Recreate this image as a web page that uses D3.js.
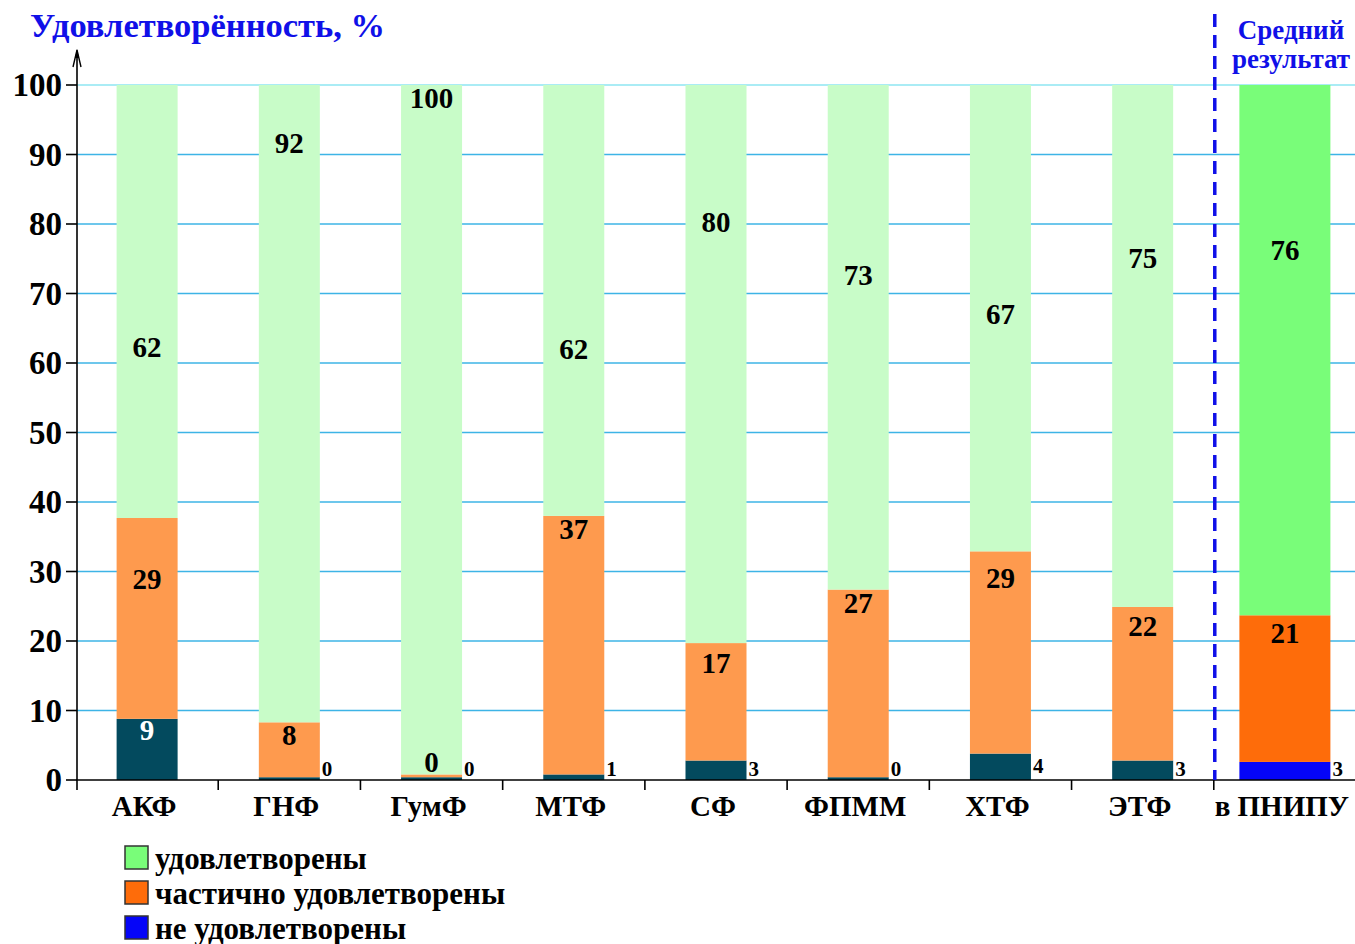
<!DOCTYPE html>
<html><head><meta charset="utf-8">
<script src="https://cdn.jsdelivr.net/npm/d3@7"></script>
<style>body{margin:0;background:#fff}svg{display:block}text{font-family:"Liberation Serif","Times New Roman",serif;font-weight:bold}</style>
</head><body>
<svg id="c" width="1355" height="944"></svg>
<script>
const categories = ["АКФ","ГНФ","ГумФ","МТФ","СФ","ФПММ","ХТФ","ЭТФ","в ПНИПУ"];
const notSatisfied = [8.8, 0.4, 0.4, 0.8, 2.8, 0.4, 3.8, 2.8, 2.6];
const partly       = [28.9, 7.9, 0.4, 37.2, 16.9, 27.0, 29.1, 22.1, 21.1];
const satisfied    = [62.3, 91.7, 100, 62.0, 80.3, 72.6, 67.1, 75.1, 76.3];
const yTicks = [0,10,20,30,40,50,60,70,80,90,100];
const seriesNames = ["удовлетворены","частично удовлетворены","не удовлетворены"];
const colorsFaculty = ["#034a5e","#fe9a4e","#c8fcc8"];
const colorsTotal = ["#0505f8","#fe6c0a","#79fd79"];

const svg = d3.select("#c");
const x = d3.scaleBand().domain(categories).range([76, 1356]).padding(0);
const y = d3.scaleLinear().domain([0,100]).range([780,85]).clamp(true);
const bw = d => d === "в ПНИПУ" ? 91 : 61;

// gridlines
svg.append("g").selectAll("line").data(yTicks.filter(t=>t>0)).join("line")
  .attr("x1",77).attr("x2",1355).attr("y1",d=>y(d)).attr("y2",d=>y(d))
  .attr("stroke",d=>d===100?"#8ee6f2":"#3db4e6").attr("stroke-width",1.6);

// stacked bars
const rows = categories.map((c,i)=>({cat:c, a:notSatisfied[i], b:partly[i], c:satisfied[i]}));
const stack = d3.stack().keys(["a","b","c"])(rows);
const gBars = svg.append("g");
stack.forEach((layer,li)=>{
  gBars.selectAll(null).data(layer).join("rect")
    .attr("x",d=>x(d.data.cat)+x.bandwidth()/2-bw(d.data.cat)/2)
    .attr("width",d=>bw(d.data.cat))
    .attr("y",d=>y(d[1]))
    .attr("height",d=>Math.max(0,y(d[0])-y(d[1])))
    .attr("fill",d=>d.data.cat==="в ПНИПУ"?colorsTotal[li]:colorsFaculty[li]);
});

// labels
const gLab = svg.append("g");
stack.forEach((layer,li)=>{
  layer.forEach(d=>{
    const v = d[1]-d[0];
    const cx = x(d.data.cat)+x.bandwidth()/2;
    const top = y(d[1]);
    const txt = Math.round(v);
    if (li===0) {
      if (v>=5) {
        gLab.append("text").attr("x",cx).attr("y",top+11).attr("text-anchor","middle")
          .attr("dominant-baseline","central").attr("font-size",29).attr("fill","#fff").text(txt);
      } else {
        gLab.append("text").attr("x",cx+bw(d.data.cat)/2+2).attr("y",Math.min(top+12,769))
          .attr("dominant-baseline","central").attr("font-size",21).attr("fill","#000").text(txt);
      }
    } else {
      let ly = Math.min(Math.max(y(v), top+13), 762);
      gLab.append("text").attr("x",cx).attr("y",ly).attr("text-anchor","middle")
        .attr("dominant-baseline","central").attr("font-size",29).attr("fill","#000").text(txt);
    }
  });
});

// x axis
svg.append("line").attr("x1",76).attr("x2",1355).attr("y1",780).attr("y2",780).attr("stroke","#000").attr("stroke-width",1.6);
const bounds = categories.map(c=>x(c)).slice(1);
svg.append("g").selectAll("line").data(bounds).join("line")
  .attr("x1",d=>d).attr("x2",d=>d).attr("y1",780).attr("y2",790).attr("stroke","#000").attr("stroke-width",1.6);
svg.append("g").selectAll("text").data(categories).join("text")
  .attr("x",d=>x(d)+x.bandwidth()/2-3).attr("y",806).attr("text-anchor","middle")
  .attr("dominant-baseline","central").attr("font-size",29).attr("fill","#000").text(d=>d);

// y axis
svg.append("line").attr("x1",77).attr("x2",77).attr("y1",790).attr("y2",52).attr("stroke","#000").attr("stroke-width",1.6);
svg.append("path").attr("d","M73,67 L77,50 L81,67").attr("fill","none").attr("stroke","#000").attr("stroke-width",1.4);
svg.append("path").attr("d","M77,49 L75,58 L79,58 Z").attr("fill","#000");
svg.append("g").selectAll("line").data(yTicks).join("line")
  .attr("x1",66).attr("x2",77).attr("y1",d=>y(d)).attr("y2",d=>y(d)).attr("stroke","#000").attr("stroke-width",1.6);
svg.append("g").selectAll("text").data(yTicks).join("text")
  .attr("x",62).attr("y",d=>y(d)).attr("text-anchor","end").attr("dominant-baseline","central")
  .attr("font-size",33).attr("fill","#000").text(d=>d);

// title
svg.append("text").attr("x",30).attr("y",37).attr("font-size",34.5).attr("fill","#1010e8").text("Удовлетворённость, %");

// dashed separator
const sepX = x("в ПНИПУ");
svg.append("line").attr("x1",sepX+1).attr("x2",sepX+1).attr("y1",14).attr("y2",780)
  .attr("stroke","#1010e8").attr("stroke-width",3.5).attr("stroke-dasharray","13,8");
svg.append("text").attr("x",1291).attr("y",30).attr("text-anchor","middle").attr("dominant-baseline","central")
  .attr("font-size",27).attr("fill","#1010e8").text("Средний");
svg.append("text").attr("x",1291).attr("y",59).attr("text-anchor","middle").attr("dominant-baseline","central")
  .attr("font-size",27).attr("fill","#1010e8").text("результат");

// legend
const legColors = [colorsTotal[2], colorsTotal[1], colorsTotal[0]];
const lg = svg.append("g");
seriesNames.forEach((n,i)=>{
  const cy = 858 + i*35;
  lg.append("rect").attr("x",125).attr("y",cy-12).attr("width",23).attr("height",23)
    .attr("fill",legColors[i]).attr("stroke","#333").attr("stroke-width",1.5);
  lg.append("text").attr("x",155).attr("y",cy).attr("dominant-baseline","central")
    .attr("font-size",31).attr("fill","#000").text(n);
});
</script>
</body></html>
